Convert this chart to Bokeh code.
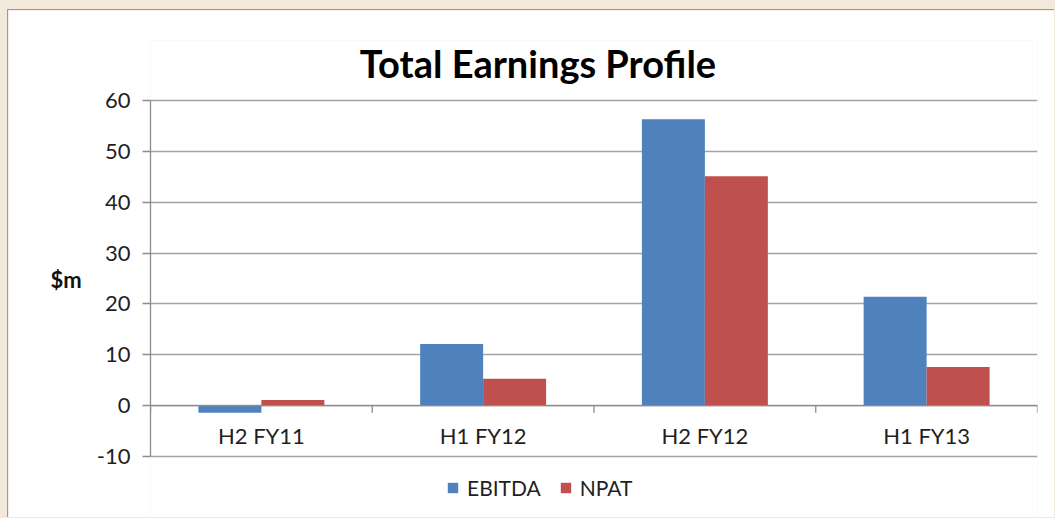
import math
from bokeh.plotting import figure
from bokeh.models import (Range1d, FixedTicker, Legend, LegendItem,
                          ColumnDataSource, Label, Span)
from bokeh.core.properties import value
from bokeh.transform import dodge
from bokeh.embed import file_html
from bokeh.resources import INLINE

categories = ["H2 FY11", "H1 FY12", "H2 FY12", "H1 FY13"]
ebitda = [-1.4, 12.1, 56.3, 21.4]
npat = [1.1, 5.3, 45.1, 7.6]
y_ticks = [-10, 0, 10, 20, 30, 40, 50, 60]
y_tick_labels = ["-10", "0", "10", "20", "30", "40", "50", "60"]
series_names = ["EBITDA", "NPAT"]
colors = ["#4F81BD", "#C0504D"]
title_text = "Total Earnings Profile"
y_label = "$m"

FONT = "Lato"
TEXT = "#1f1f1f"
GRID = "#A3A3A3"
AXIS = "#8C8C8C"

# layout (pixels on the canvas)
W, H = 1047, 508
TOP = 30                              # frame top row on the canvas
AX_TOP, AX_BOTTOM = 90, 446          # pixel rows of the top and bottom tick
ymin, ymax = y_ticks[0], y_ticks[-1]
upp = (ymax - ymin) / (AX_BOTTOM - AX_TOP)
y_start = ymin - (H - AX_BOTTOM) * upp
y_end = ymax + (AX_TOP - TOP) * upp

n = len(categories)
centers = [i + 0.5 for i in range(n)]
bounds_x = list(range(n + 1))
src = ColumnDataSource(dict(x=centers, cat=categories, zero=[0] * n,
                            EBITDA=ebitda, NPAT=npat))
bsrc = ColumnDataSource(dict(x=bounds_x, zero=[0] * (n + 1)))

p = figure(width=W, height=H,
           x_range=Range1d(0, n),
           y_range=Range1d(y_start, y_end),
           output_backend="svg", toolbar_location=None,
           x_axis_location=None,
           min_border_left=142, min_border_right=18,
           min_border_top=TOP, min_border_bottom=0)
p.styles = {"margin-left": "7px", "margin-top": "9px",
            "border-left": "1px solid #9C9C9C", "border-top": "1px solid #9C9C9C"}
p.outline_line_color = None
p.background_fill_color = "white"
p.border_fill_color = "white"

p.xgrid.grid_line_color = None
p.ygrid.ticker = FixedTicker(ticks=y_ticks)
p.ygrid.grid_line_color = GRID
p.ygrid.grid_line_width = 1.4

bw = 0.284
renderers = []
for i, (name, col) in enumerate(zip(series_names, colors)):
    off = (i - 0.5) * bw
    r = p.vbar(x=dodge("x", off), top=name, bottom=0,
               width=bw, source=src, fill_color=col, line_color=None)
    renderers.append(r)

# horizontal category axis at zero with boundary ticks
p.add_layout(Span(location=0, dimension="width", line_color=AXIS, line_width=1.4))
p.ray(x="x", y="zero", length=7, length_units="screen", angle=-math.pi / 2,
      source=bsrc, line_color=AXIS, line_width=1.3)

# category labels below the zero line
p.text(x="x", y="zero", text="cat", source=src, y_offset=30,
       text_align="center", text_baseline="middle",
       text_font=value(FONT), text_font_size="22px", text_color=TEXT)

ya = p.yaxis[0]
ya.bounds = (ymin, ymax)
ya.ticker = FixedTicker(ticks=y_ticks)
ya.major_label_overrides = {t: s for t, s in zip(y_ticks, y_tick_labels)}
ya.axis_line_color = AXIS
ya.axis_line_width = 1.3
ya.major_tick_line_color = AXIS
ya.major_tick_line_width = 1.3
ya.major_tick_out = 8
ya.major_tick_in = 0
ya.minor_tick_line_color = None
ya.major_label_standoff = 12
ya.major_label_text_font = FONT
ya.major_label_text_font_size = "22px"
ya.major_label_text_color = TEXT
ya.axis_label = y_label
ya.axis_label_orientation = "horizontal"
ya.axis_label_text_font = FONT
ya.axis_label_text_font_size = "22px"
ya.axis_label_text_font_style = "bold"
ya.axis_label_text_color = "#111111"
ya.axis_label_standoff = 12

p.add_layout(Label(x=n / 2, y=ymax, text=title_text, x_offset=-56, y_offset=38,
                   text_align="center", text_baseline="middle",
                   text_font=FONT, text_font_size="38px", text_font_style="bold",
                   text_color="#000000"))

legend = Legend(items=[LegendItem(label=s, renderers=[r]) for s, r in zip(series_names, renderers)],
                orientation="horizontal", location=(296, 18),
                border_line_color=None, background_fill_alpha=0,
                label_text_font=FONT, label_text_font_size="21px",
                label_text_color=TEXT, glyph_width=13, glyph_height=13,
                spacing=18, label_standoff=8, padding=5)
p.add_layout(legend, "center")

html = file_html(p, INLINE)
html = html.replace("</head>", "<style>html,body{background:#F3E8DC;}</style></head>", 1)
open("out.html", "w").write(html)
